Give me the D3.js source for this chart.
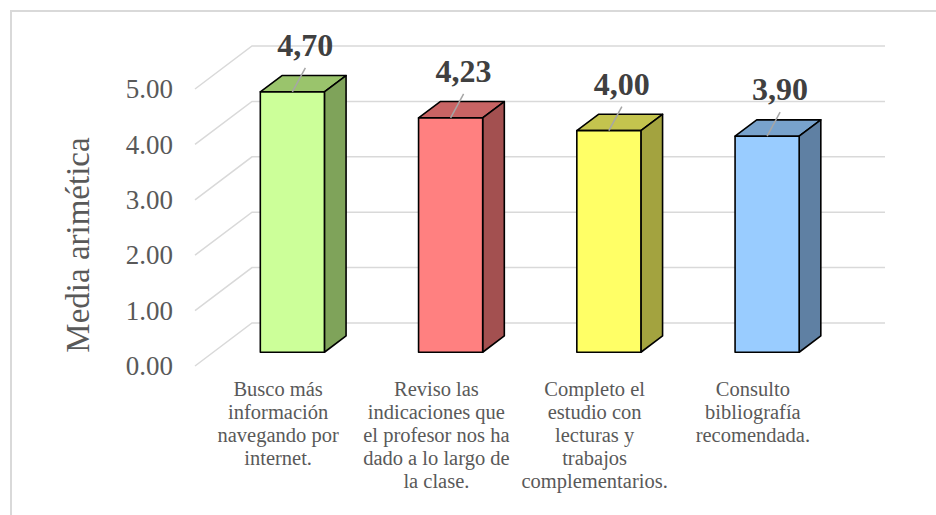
<!DOCTYPE html>
<html>
<head>
    <meta charset="utf-8">
    <style>
        body { margin: 0; background: #fff; }
        svg { display: block; font-family: "Liberation Serif", "Times New Roman", serif; }
        .grid { stroke: #d9d9d9; stroke-width: 1.5px; fill: none; }
        .face { stroke: #000; stroke-width: 1.6px; stroke-linejoin: round; }
        .tick text { fill: #595959; font-size: 27px; }
        .cat { fill: #595959; font-size: 20.5px; text-anchor: middle; }
        .value { fill: #404040; font-size: 32px; font-weight: bold; text-anchor: middle; }
        .leader { stroke: #a6a6a6; stroke-width: 1.5px; }
    </style>
</head>
<body>
<div id="chart"></div>
<script src="https://cdn.jsdelivr.net/npm/d3@7"></script>
<script>

    // data
    var categories = ["busco", "reviso", "completo", "consulto"];
    var catLines = [
        ["Busco más", "información", "navegando por", "internet."],
        ["Reviso las", "indicaciones que", "el profesor nos ha", "dado a lo largo de", "la clase."],
        ["Completo el", "estudio con", "lecturas y", "trabajos", "complementarios."],
        ["Consulto", "bibliografía", "recomendada."]
    ];
    var values = [4.70, 4.23, 4.00, 3.90];
    var valueLabels = ["4,70", "4,23", "4,00", "3,90"];
    var yTicks = [0, 1, 2, 3, 4, 5];

    var frontColors = ["#ccff99", "#ff8080", "#ffff66", "#99ccff"];
    var topColors = ["#9ac46c", "#c86464", "#c4c44e", "#78a2cc"];
    var sideColors = ["#7fa35a", "#a35050", "#a3a33f", "#5f80a3"];

    var width = 936, height = 515;

    // depth of the 3d box (offset of the back wall from the front edge)
    var depthX = 57, depthY = -43;
    var barFront = 0.32, barBack = 0.70;

    var svg = d3.select("#chart").append("svg")
        .attr("width", width)
        .attr("height", height);

    // chart border
    svg.append("rect")
        .attr("x", 11).attr("y", 11)
        .attr("width", width).attr("height", height)
        .attr("fill", "none")
        .attr("stroke", "#d9d9d9")
        .attr("stroke-width", 2);

    var y = d3.scaleLinear().domain([0, 5]).range([366, 89]);
    var x = d3.scaleBand().domain(categories).range([195, 828]).padding(0);
    var barW = x.bandwidth() * 0.405;

    function pt(px, v, d) {
        return [px + d * depthX, y(v) + d * depthY];
    }

    // gridlines: floor diagonal + back wall
    var grid = svg.append("g");
    yTicks.forEach(function (t) {
        var a = pt(195, t, 0), b = pt(195, t, 1), c = pt(828, t, 1);
        grid.append("path")
            .attr("class", "grid")
            .attr("d", "M" + a + "L" + b + "L" + c);
    });

    // y axis labels
    var yAxis = d3.axisLeft(y)
        .tickValues(yTicks)
        .tickFormat(d3.format(".2f"))
        .tickSize(0)
        .tickPadding(0);

    svg.append("g")
        .attr("transform", "translate(173,0)")
        .call(yAxis)
        .attr("font-family", null)
        .attr("font-size", null)
        .call(function (g) { g.select(".domain").remove(); });

    svg.append("text")
        .attr("transform", "translate(89,245) rotate(-90)")
        .attr("text-anchor", "middle")
        .attr("fill", "#595959")
        .attr("font-size", "33px")
        .text("Media arimética");

    // bars
    var bars = svg.append("g").selectAll("g")
        .data(values)
        .enter().append("g");

    bars.each(function (v, i) {
        var g = d3.select(this);
        var cx = x(categories[i]) + x.bandwidth() / 2;
        var x0 = cx - barW / 2, x1 = cx + barW / 2;
        var fTL = pt(x0, v, barFront), fTR = pt(x1, v, barFront),
            fBR = pt(x1, 0, barFront), fBL = pt(x0, 0, barFront);
        var bTL = pt(x0, v, barBack), bTR = pt(x1, v, barBack),
            bBR = pt(x1, 0, barBack);

        g.append("path").attr("class", "face")
            .attr("fill", topColors[i])
            .attr("d", "M" + fTL + "L" + bTL + "L" + bTR + "L" + fTR + "Z");
        g.append("path").attr("class", "face")
            .attr("fill", sideColors[i])
            .attr("d", "M" + fTR + "L" + bTR + "L" + bBR + "L" + fBR + "Z");
        g.append("path").attr("class", "face")
            .attr("fill", frontColors[i])
            .attr("d", "M" + fTL + "L" + fTR + "L" + fBR + "L" + fBL + "Z");

        var mid = pt(cx, v, barFront);
        g.append("line").attr("class", "leader")
            .attr("x1", mid[0]).attr("y1", mid[1])
            .attr("x2", mid[0] + 13).attr("y2", mid[1] - 24);
        g.append("text").attr("class", "value")
            .attr("x", mid[0] + 13)
            .attr("y", mid[1] - 36)
            .text(valueLabels[i]);
    });

    // category labels
    svg.append("g").selectAll("text")
        .data(catLines)
        .enter().append("text")
        .attr("class", "cat")
        .attr("transform", function (d, i) {
            return "translate(" + (x(categories[i]) + x.bandwidth() / 2 + 4) + ",396)";
        })
        .each(function (lines) {
            var t = d3.select(this);
            lines.forEach(function (l, k) {
                t.append("tspan").attr("x", 0).attr("y", k * 23).text(l);
            });
        });

</script>
</body>
</html>
